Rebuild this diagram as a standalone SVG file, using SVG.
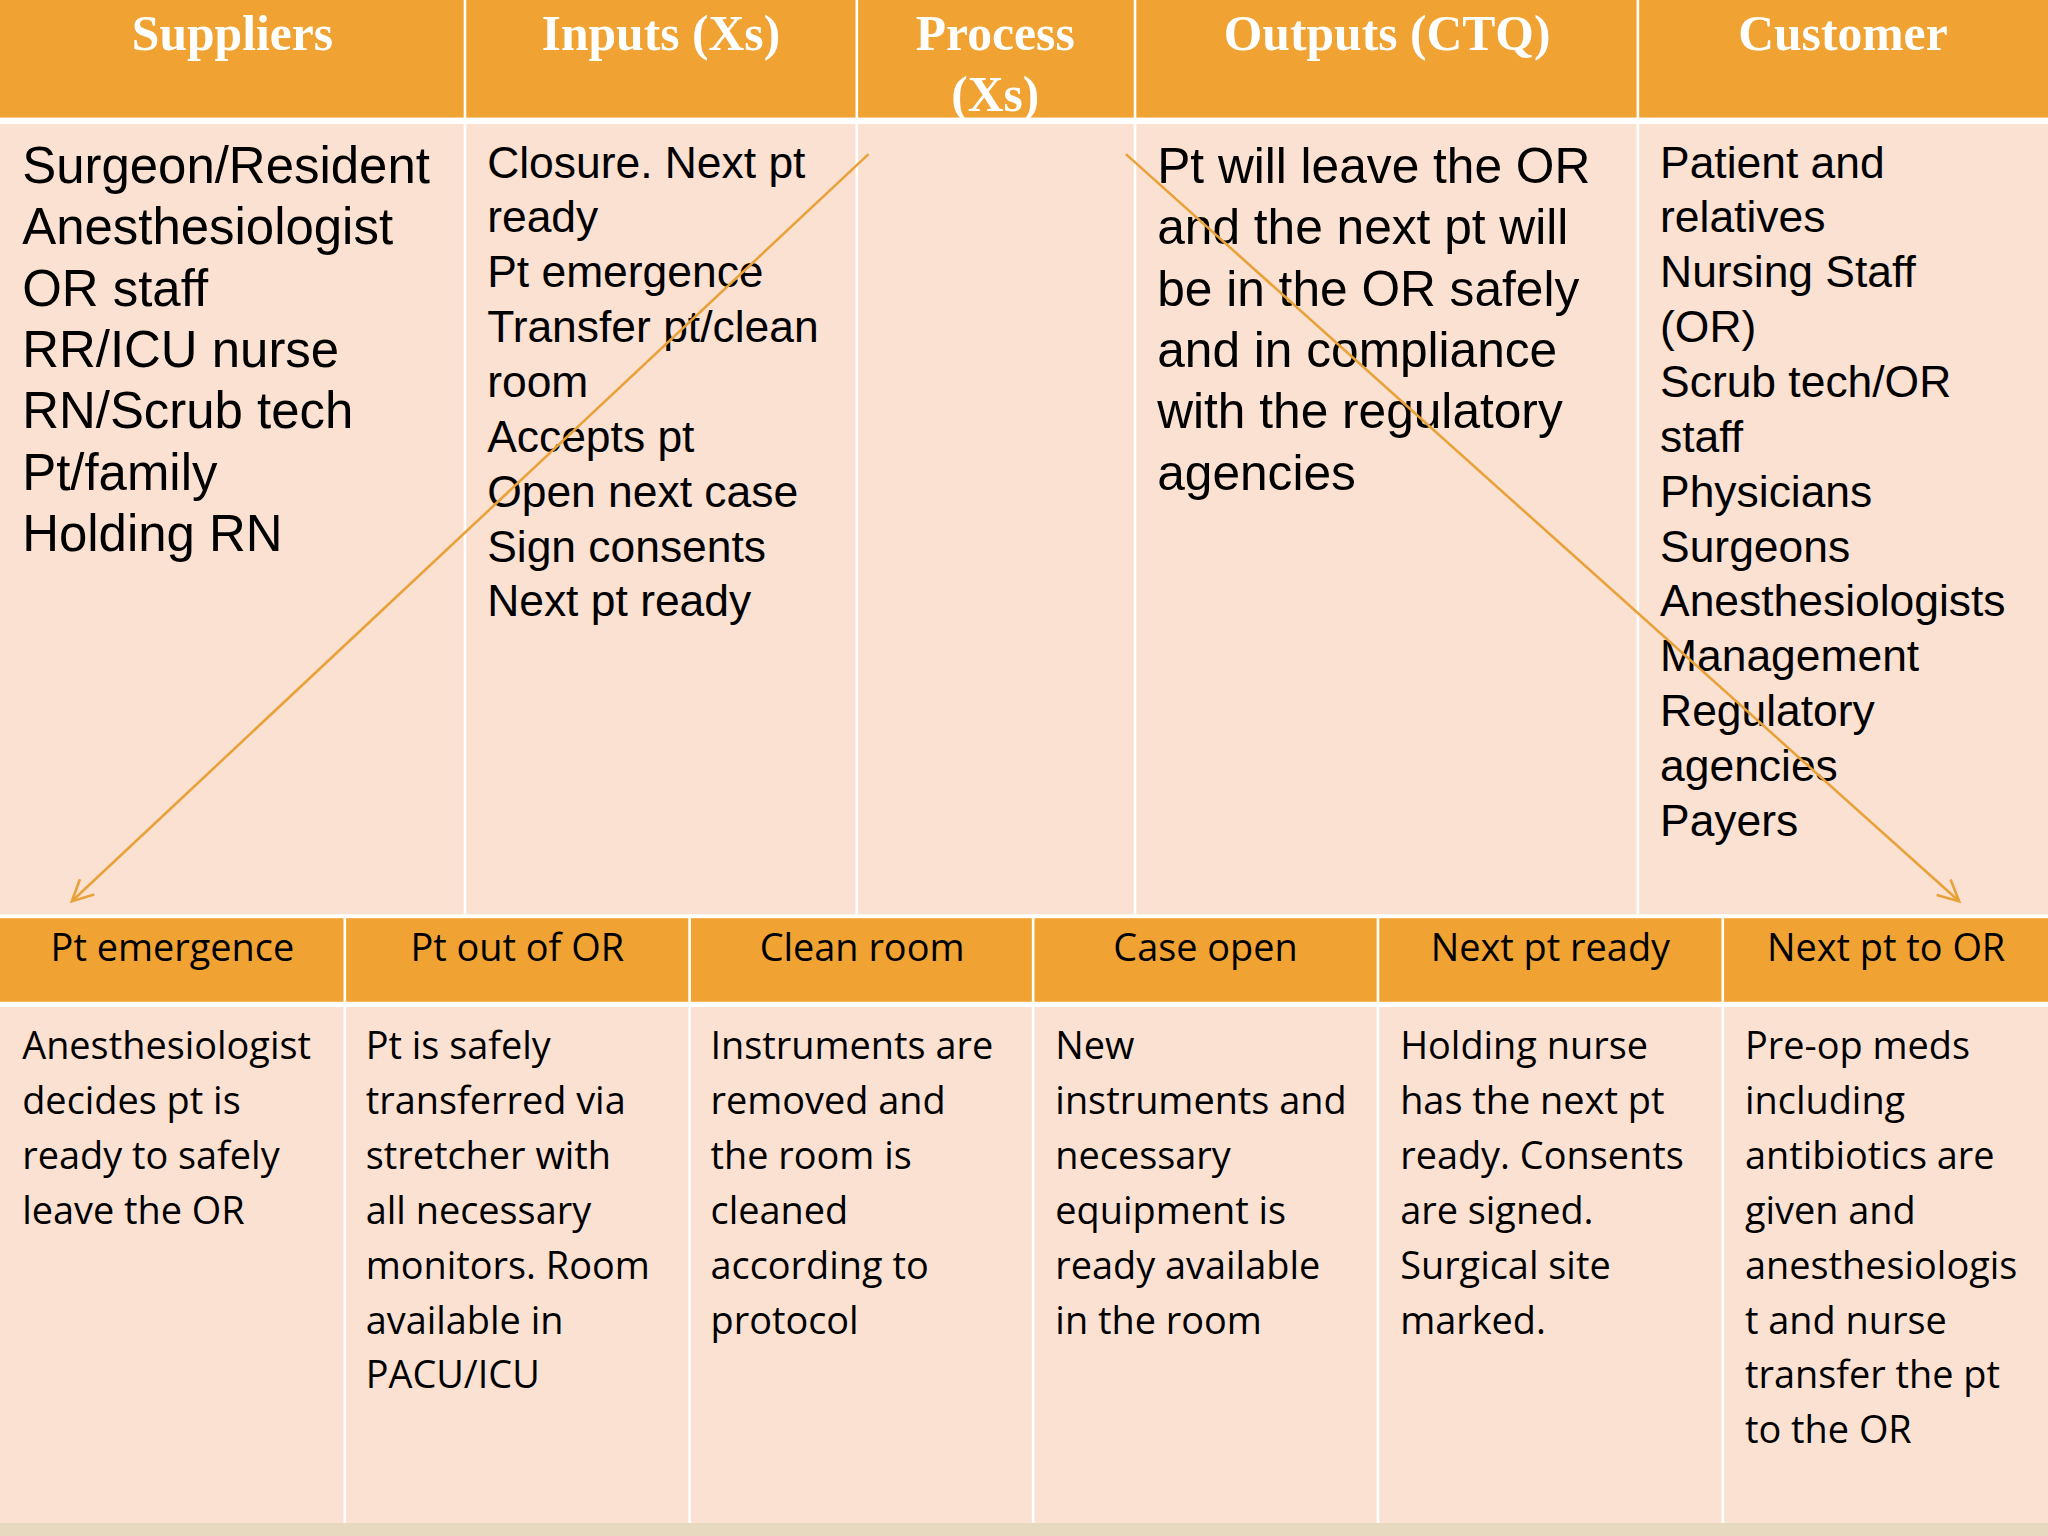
<svg xmlns="http://www.w3.org/2000/svg" width="2048" height="1536" viewBox="0 0 2048 1536">
<defs>
<style>
.hd{fill:#F0A232}
.bd{fill:#FBE1D2}
.ht{font-family:"Liberation Serif",serif;font-weight:bold;font-size:38px;fill:#fff;text-anchor:middle}
.t1{font-family:"Liberation Sans",sans-serif;fill:#000}
.bh{font-family:"Open Sans",sans-serif;font-size:29px;fill:#000;text-anchor:middle}
.bt{font-family:"Open Sans",sans-serif;font-size:29px;fill:#000}
.ar{stroke:#E9A23A;stroke-width:2;fill:none}
</style>
<marker id="ah" viewBox="0 0 20 20" refX="18" refY="10" markerWidth="20" markerHeight="20" markerUnits="userSpaceOnUse" orient="auto"><path d="M2,2 L18,10 L2,18" fill="none" stroke="#E9A23A" stroke-width="2"/></marker>
</defs>
<rect width="2048" height="1536" fill="#fff"/>
<g transform="scale(1.306122)">
<g id="top-headers">
<rect class="hd" x="0" y="0" width="355" height="90"/>
<rect class="hd" x="357" y="0" width="298" height="90"/>
<rect class="hd" x="657" y="0" width="211" height="90"/>
<rect class="hd" x="870" y="0" width="383" height="90"/>
<rect class="hd" x="1255" y="0" width="313" height="90"/>
<text class="ht" x="178" y="38">Suppliers</text>
<text class="ht" x="506" y="38">Inputs (Xs)</text>
<text class="ht" x="762" y="38">Process</text>
<text class="ht" x="762" y="85">(Xs)</text>
<text class="ht" x="1062" y="38">Outputs (CTQ)</text>
<text class="ht" x="1411" y="38">Customer</text>
</g>
<g id="suppliers">
<rect class="bd" x="0" y="95" width="355" height="605"/>
<text class="t1" font-size="39" x="17" y="140">Surgeon/Resident</text>
<text class="t1" font-size="39" x="17" y="187">Anesthesiologist</text>
<text class="t1" font-size="39" x="17" y="234">OR staff</text>
<text class="t1" font-size="39" x="17" y="281">RR/ICU nurse</text>
<text class="t1" font-size="39" x="17" y="328">RN/Scrub tech</text>
<text class="t1" font-size="39" x="17" y="375">Pt/family</text>
<text class="t1" font-size="39" x="17" y="422">Holding RN</text>
</g>
<g id="inputs">
<rect class="bd" x="357" y="95" width="298" height="605"/>
<g class="t1" font-size="34">
<text x="373" y="136">Closure. Next pt</text>
<text x="373" y="178">ready</text>
<text x="373" y="220">Pt emergence</text>
<text x="373" y="262">Transfer pt/clean</text>
<text x="373" y="304">room</text>
<text x="373" y="346">Accepts pt</text>
<text x="373" y="388">Open next case</text>
<text x="373" y="430">Sign consents</text>
<text x="373" y="472">Next pt ready</text>
</g>
</g>
<g id="process"><rect class="bd" x="657" y="95" width="211" height="605"/></g>
<g id="outputs">
<rect class="bd" x="870" y="95" width="383" height="605"/>
<g class="t1" font-size="38">
<text x="886" y="140">Pt will leave the OR</text>
<text x="886" y="187">and the next pt will</text>
<text x="886" y="234">be in the OR safely</text>
<text x="886" y="281">and in compliance</text>
<text x="886" y="328">with the regulatory</text>
<text x="886" y="375">agencies</text>
</g>
</g>
<g id="customer">
<rect class="bd" x="1255" y="95" width="313" height="605"/>
<g class="t1" font-size="34">
<text x="1271" y="136">Patient and</text>
<text x="1271" y="178">relatives</text>
<text x="1271" y="220">Nursing Staff</text>
<text x="1271" y="262">(OR)</text>
<text x="1271" y="304">Scrub tech/OR</text>
<text x="1271" y="346">staff</text>
<text x="1271" y="388">Physicians</text>
<text x="1271" y="430">Surgeons</text>
<text x="1271" y="472">Anesthesiologists</text>
<text x="1271" y="514">Management</text>
<text x="1271" y="556">Regulatory</text>
<text x="1271" y="598">agencies</text>
<text x="1271" y="640">Payers</text>
</g>
</g>
<g id="bottom-headers">
<rect class="hd" x="0" y="703" width="263" height="64"/>
<rect class="hd" x="265" y="703" width="262" height="64"/>
<rect class="hd" x="529" y="703" width="261" height="64"/>
<rect class="hd" x="792" y="703" width="262" height="64"/>
<rect class="hd" x="1056" y="703" width="262" height="64"/>
<rect class="hd" x="1320" y="703" width="248" height="64"/>
<text class="bh" x="132" y="736">Pt emergence</text>
<text class="bh" x="396" y="736">Pt out of OR</text>
<text class="bh" x="660" y="736">Clean room</text>
<text class="bh" x="923" y="736">Case open</text>
<text class="bh" x="1187" y="736">Next pt ready</text>
<text class="bh" x="1444" y="736">Next pt to OR</text>
</g>
<g id="bottom-cells">
<rect class="bd" x="0" y="771" width="263" height="395"/>
<rect class="bd" x="265" y="771" width="262" height="395"/>
<rect class="bd" x="529" y="771" width="261" height="395"/>
<rect class="bd" x="792" y="771" width="262" height="395"/>
<rect class="bd" x="1056" y="771" width="262" height="395"/>
<rect class="bd" x="1320" y="771" width="248" height="395"/>
<g class="bt">
<text x="17" y="811">Anesthesiologist</text><text x="17" y="853">decides pt is</text><text x="17" y="895">ready to safely</text><text x="17" y="937">leave the OR</text>
<text x="280" y="811">Pt is safely</text><text x="280" y="853">transferred via</text><text x="280" y="895">stretcher with</text><text x="280" y="937">all necessary</text><text x="280" y="979">monitors. Room</text><text x="280" y="1021">available in</text><text x="280" y="1063">PACU/ICU</text>
<text x="544" y="811">Instruments are</text><text x="544" y="853">removed and</text><text x="544" y="895">the room is</text><text x="544" y="937">cleaned</text><text x="544" y="979">according to</text><text x="544" y="1021">protocol</text>
<text x="808" y="811">New</text><text x="808" y="853">instruments and</text><text x="808" y="895">necessary</text><text x="808" y="937">equipment is</text><text x="808" y="979">ready available</text><text x="808" y="1021">in the room</text>
<text x="1072" y="811">Holding nurse</text><text x="1072" y="853">has the next pt</text><text x="1072" y="895">ready. Consents</text><text x="1072" y="937">are signed.</text><text x="1072" y="979">Surgical site</text><text x="1072" y="1021">marked.</text>
<text x="1336" y="811">Pre-op meds</text><text x="1336" y="853">including</text><text x="1336" y="895">antibiotics are</text><text x="1336" y="937">given and</text><text x="1336" y="979">anesthesiologis</text><text x="1336" y="1021">t and nurse</text><text x="1336" y="1063">transfer the pt</text><text x="1336" y="1105">to the OR</text>
</g>
</g>
<rect x="0" y="1166" width="1568" height="10" fill="#E6D9BF"/>
<g id="connectors">
<line class="ar" x1="665" y1="118" x2="55" y2="690" marker-end="url(#ah)"/>
<line class="ar" x1="862" y1="118" x2="1500" y2="690" marker-end="url(#ah)"/>
</g>
</g>
</svg>
